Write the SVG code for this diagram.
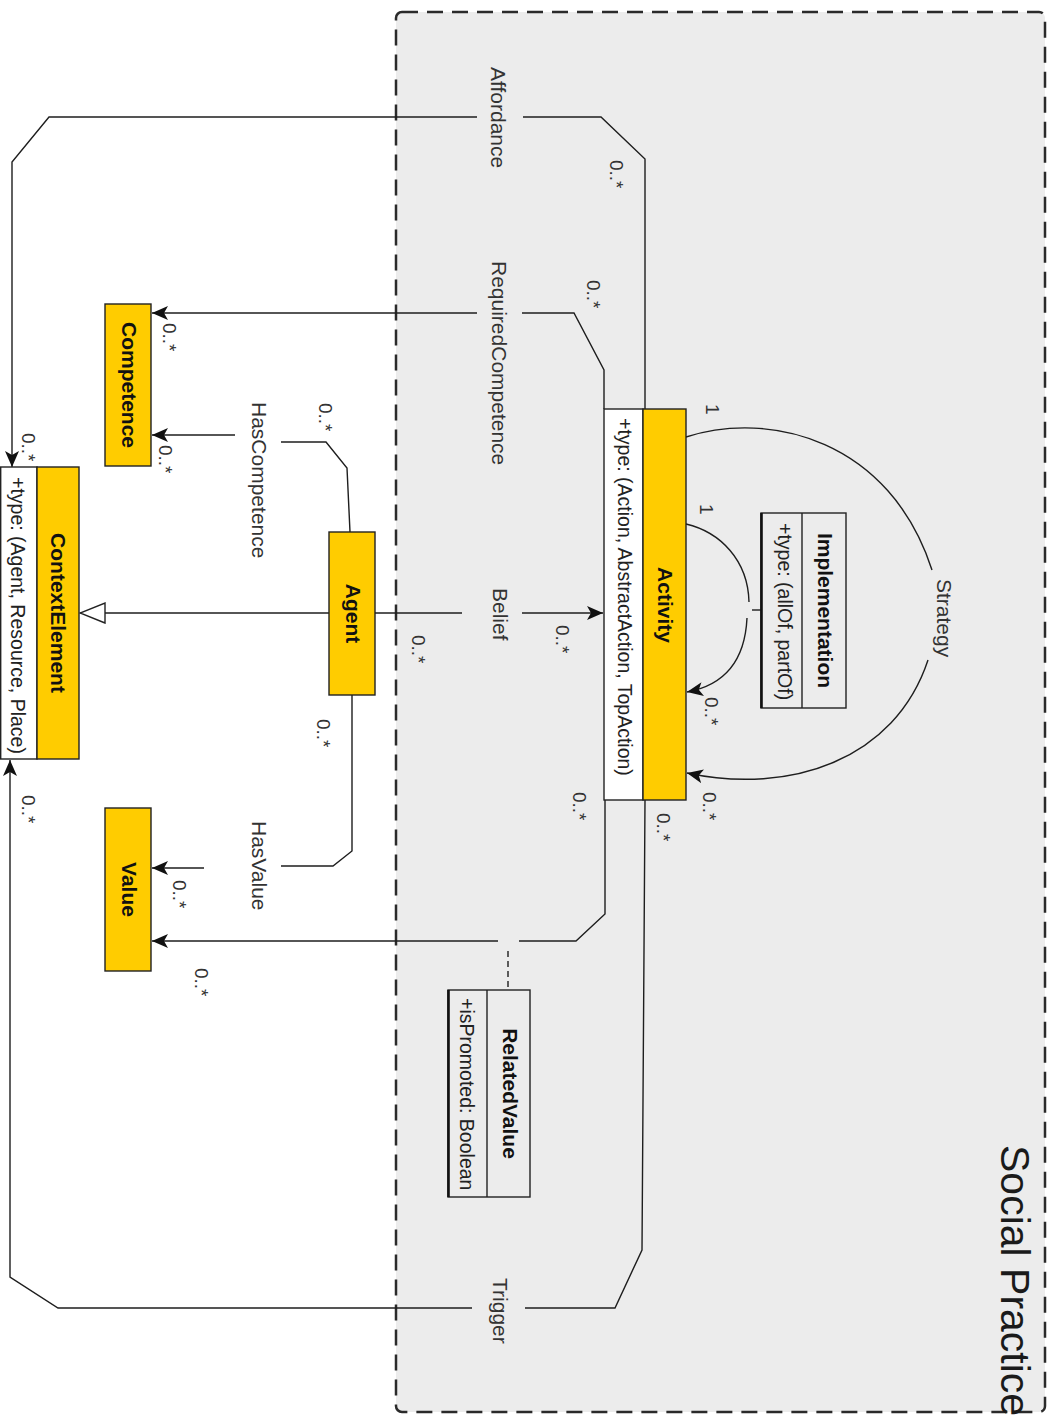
<svg xmlns="http://www.w3.org/2000/svg" width="1051" height="1415" viewBox="0 0 1051 1415">
  <style>
    .frame { fill: #ececec; stroke: #2a2a2a; stroke-width: 2.5; stroke-dasharray: 16 9; }
    .title { font-family: "Liberation Sans", Arial, sans-serif; font-size: 41px; fill: #1a1a1a; }
    .cls { fill: #ffcc00; stroke: #222; stroke-width: 1.4; }
    .attrbox { fill: #ffffff; stroke: #222; stroke-width: 1.4; }
    .plain { fill: #ececec; stroke: #222; stroke-width: 1.4; }
    .edge { fill: none; stroke: #1e1e1e; stroke-width: 1.4; }
    .name { font-family: "Liberation Sans", Arial, sans-serif; font-size: 21px; font-weight: bold; fill: #111; text-anchor: middle; }
    .attr { font-family: "Liberation Sans", Arial, sans-serif; font-size: 19.5px; fill: #222; }
    .lbl { font-family: "Liberation Sans", Arial, sans-serif; font-size: 21px; fill: #333; }
    .mult { font-family: "Liberation Sans", Arial, sans-serif; font-size: 19px; fill: #333; }
  </style>
  <defs>
    <marker id="arrow" markerUnits="userSpaceOnUse" viewBox="0 0 16 14" refX="16" refY="7" markerWidth="16" markerHeight="14" orient="auto">
      <path d="M0,0 L16,7 L0,14 L4,7 z" fill="#111"/>
    </marker>
    <marker id="inherit" markerUnits="userSpaceOnUse" viewBox="0 0 27 22" refX="26" refY="11" markerWidth="27" markerHeight="22" orient="auto">
      <path d="M1,1 L26,11 L1,21 z" fill="#fff" stroke="#222" stroke-width="1.4"/>
    </marker>
  </defs>

  <!-- Social Practice package frame -->
  <g id="social-practice">
    <rect class="frame" x="396" y="12" width="649" height="1400" rx="6"/>
    <text class="title" transform="translate(1001,1145) rotate(90)">Social Practice</text>
  </g>

  <!-- associations and their labels -->
  <g id="connectors">
    <!-- Affordance -->
    <path class="edge" d="M645,409 L645,159 L601,117 L523,117"/>
    <path class="edge" d="M477,117 L49,117 L12,162 L12,467" marker-end="url(#arrow)"/>
    <text class="lbl" transform="translate(491,67) rotate(90)">Affordance</text>
    <text class="mult" transform="translate(610,160) rotate(90)">0..*</text>
    <text class="mult" transform="translate(22,433) rotate(90)">0..*</text>

    <!-- RequiredCompetence -->
    <path class="edge" d="M604,409 L604,370 L574,313 L522,313"/>
    <path class="edge" d="M477,313 L152,313" marker-end="url(#arrow)"/>
    <text class="lbl" transform="translate(492,261) rotate(90)">RequiredCompetence</text>
    <text class="mult" transform="translate(587,280) rotate(90)">0..*</text>
    <text class="mult" transform="translate(163,323) rotate(90)">0..*</text>

    <!-- HasCompetence -->
    <path class="edge" d="M350,532 L347,468 L326,442 L281,442"/>
    <path class="edge" d="M235,435 L152,435" marker-end="url(#arrow)"/>
    <text class="lbl" transform="translate(252,402) rotate(90)">HasCompetence</text>
    <text class="mult" transform="translate(319,403) rotate(90)">0..*</text>
    <text class="mult" transform="translate(159,445) rotate(90)">0..*</text>

    <!-- Agent generalises ContextElement -->
    <path class="edge" d="M329,613 L80,613" marker-end="url(#inherit)"/>

    <!-- Belief -->
    <path class="edge" d="M375,613 L462,613"/>
    <path class="edge" d="M522,613 L603,613" marker-end="url(#arrow)"/>
    <text class="lbl" transform="translate(493,588) rotate(90)">Belief</text>
    <text class="mult" transform="translate(412,635) rotate(90)">0..*</text>
    <text class="mult" transform="translate(556,625) rotate(90)">0..*</text>

    <!-- HasValue -->
    <path class="edge" d="M352,695 L352,851 L333,866 L281,866"/>
    <path class="edge" d="M204,868 L152,868" marker-end="url(#arrow)"/>
    <text class="lbl" transform="translate(252,821) rotate(90)">HasValue</text>
    <text class="mult" transform="translate(317,719) rotate(90)">0..*</text>
    <text class="mult" transform="translate(173,880) rotate(90)">0..*</text>

    <!-- Activity to Value, with RelatedValue association class -->
    <path class="edge" d="M605,800 L605,914 L576,941 L519,941"/>
    <path class="edge" d="M498,941 L152,941" marker-end="url(#arrow)"/>
    <path class="edge" d="M508,951 L508,990" stroke-dasharray="6 4"/>
    <text class="mult" transform="translate(573,792) rotate(90)">0..*</text>
    <text class="mult" transform="translate(195,968) rotate(90)">0..*</text>

    <!-- Trigger -->
    <path class="edge" d="M645,800 L642,1250 L615,1308 L525,1308"/>
    <path class="edge" d="M472,1308 L58,1308 L10,1277 L10,760" marker-end="url(#arrow)"/>
    <text class="lbl" transform="translate(493,1278) rotate(90)">Trigger</text>
    <text class="mult" transform="translate(657,813) rotate(90)">0..*</text>
    <text class="mult" transform="translate(22,795) rotate(90)">0..*</text>

    <!-- Strategy (Activity self association) -->
    <path class="edge" d="M686,437 C770,410 890,440 932,570"/>
    <path class="edge" d="M928,660 C895,760 790,795 687,773" marker-end="url(#arrow)"/>
    <text class="lbl" transform="translate(937,579) rotate(90)">Strategy</text>
    <text class="mult" transform="translate(706,404) rotate(90)">1</text>
    <text class="mult" transform="translate(703,792) rotate(90)">0..*</text>

    <!-- Implementation (Activity self association) -->
    <path class="edge" d="M686,524 C720,532 748,560 749,602"/>
    <path class="edge" d="M747,618 C745,660 725,685 687,692" marker-end="url(#arrow)"/>
    <path class="edge" d="M752,610 L761,610"/>
    <text class="mult" transform="translate(700,504) rotate(90)">1</text>
    <text class="mult" transform="translate(705,697) rotate(90)">0..*</text>
  </g>

  <!-- classes -->
  <g id="activity">
    <rect class="attrbox" x="604" y="409" width="39" height="391"/>
    <rect class="cls" x="643" y="409" width="43" height="391"/>
    <text class="name" transform="translate(658,605) rotate(90)">Activity</text>
    <text class="attr" transform="translate(618,418) rotate(90)">+type: (Action, AbstractAction, TopAction)</text>
  </g>

  <g id="context-element">
    <rect class="attrbox" x="0.7" y="467" width="36.3" height="292"/>
    <rect class="cls" x="37" y="467" width="42" height="292"/>
    <text class="name" transform="translate(51,613) rotate(90)">ContextElement</text>
    <text class="attr" transform="translate(11,477) rotate(90)">+type: (Agent, Resource, Place)</text>
  </g>

  <g id="competence">
    <rect class="cls" x="105" y="304" width="46" height="162"/>
    <text class="name" transform="translate(121.5,385) rotate(90)">Competence</text>
  </g>

  <g id="agent">
    <rect class="cls" x="329" y="532" width="46" height="163"/>
    <text class="name" transform="translate(346,613.5) rotate(90)">Agent</text>
  </g>

  <g id="value">
    <rect class="cls" x="105" y="808" width="46" height="163"/>
    <text class="name" transform="translate(121.5,889.5) rotate(90)">Value</text>
  </g>

  <g id="implementation">
    <rect class="plain" x="761" y="513" width="85" height="195"/>
    <line x1="802" y1="513" x2="802" y2="708" stroke="#222" stroke-width="1.4"/>
    <line x1="761.5" y1="513" x2="761.5" y2="708" stroke="#111" stroke-width="2.6"/>
    <text class="name" transform="translate(818,610.5) rotate(90)">Implementation</text>
    <text class="attr" transform="translate(778,523) rotate(90)">+type: (allOf, partOf)</text>
  </g>

  <g id="related-value">
    <rect class="plain" x="448" y="990" width="82" height="207"/>
    <line x1="487" y1="990" x2="487" y2="1197" stroke="#222" stroke-width="1.4"/>
    <line x1="448.5" y1="990" x2="448.5" y2="1197" stroke="#111" stroke-width="2.6"/>
    <text class="name" transform="translate(502.5,1093.5) rotate(90)">RelatedValue</text>
    <text class="attr" transform="translate(460,998) rotate(90)">+isPromoted: Boolean</text>
  </g>
</svg>
